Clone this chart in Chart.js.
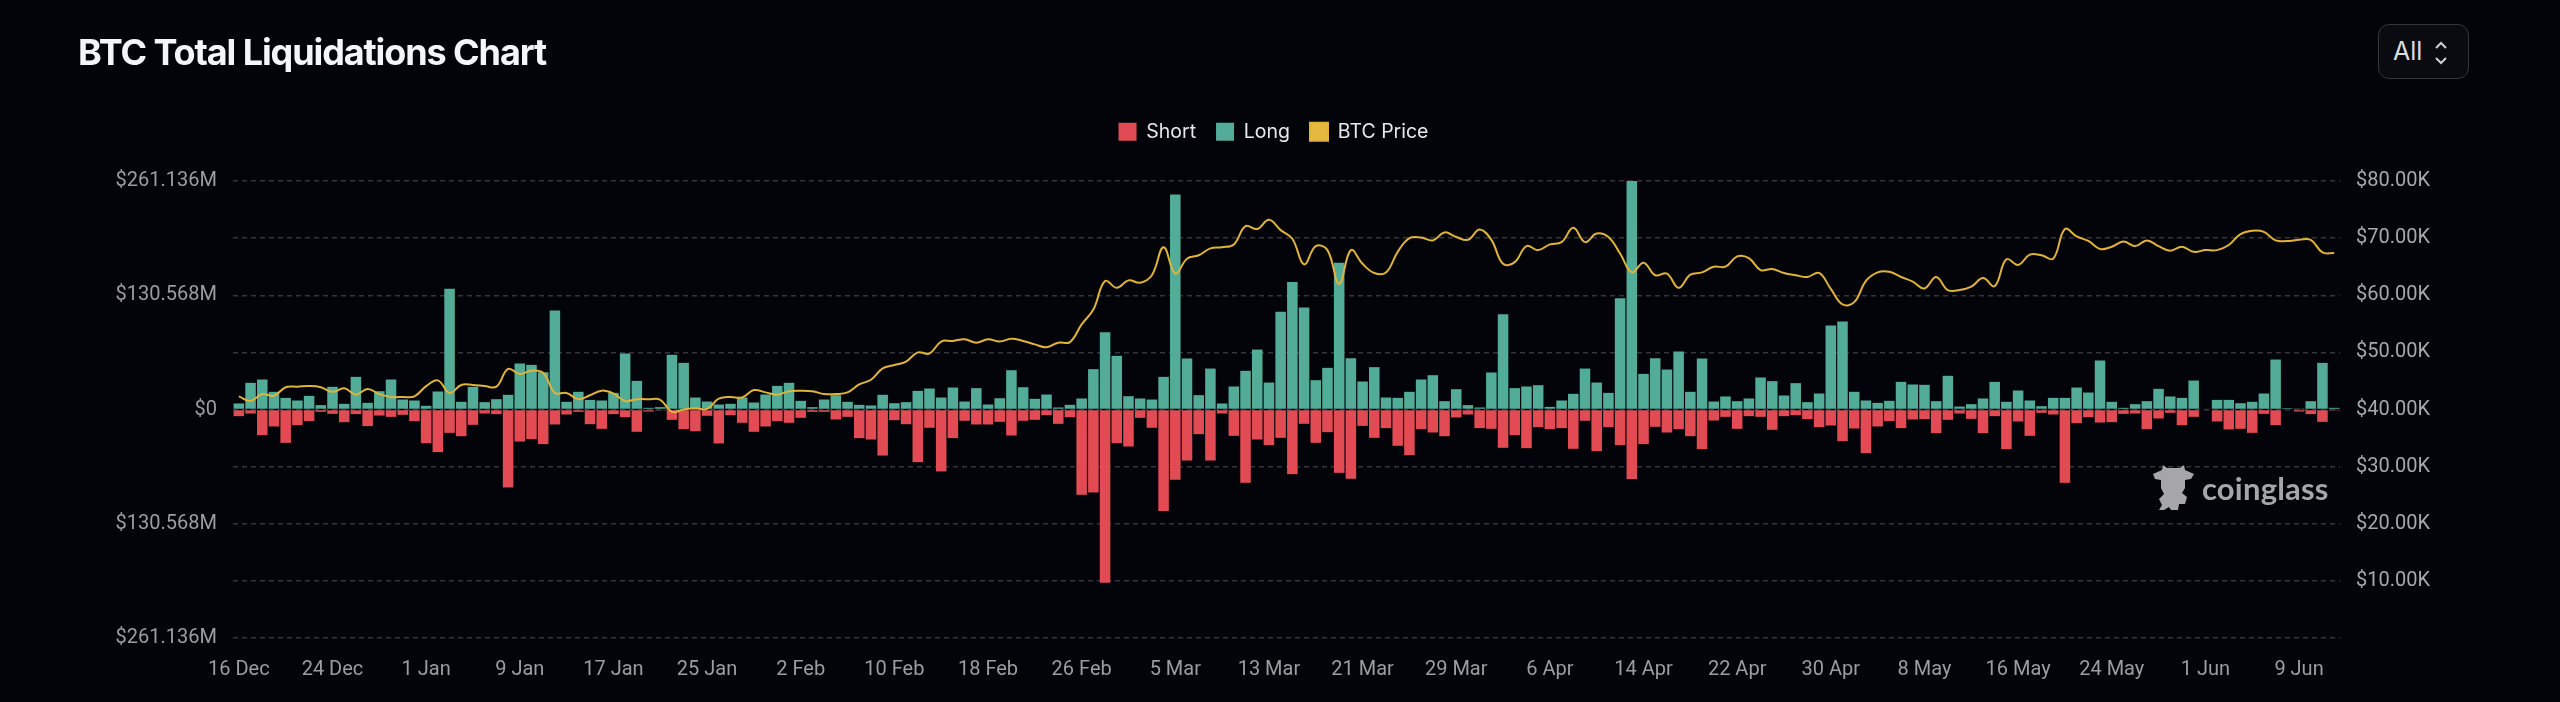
<!DOCTYPE html>
<html>
<head>
<meta charset="utf-8">
<title>BTC Total Liquidations Chart</title>
<script src="https://cdn.jsdelivr.net/npm/chart.js@4"></script>
<style>
    html, body { margin: 0; background: #02040a; }
    #wrap { position: relative; width: 2560px; height: 702px; overflow: hidden; }
    #titulo { position: absolute; left: 78px; top: 30px; font: 700 36px Inter, sans-serif; letter-spacing: -1.1px; color: #f4f5f8; }
    #botao { position: absolute; left: 2378px; top: 24px; width: 91px; height: 55px; box-sizing: border-box; border: 1.5px solid #33363b; border-radius: 11px; background: #090b10; color: #dcdcde; font: 25px Inter, sans-serif; line-height: 53px; padding-left: 14px; }
    #botao svg { position: absolute; left: 55px; top: 16px; }
    #marca { position: absolute; left: 2152px; top: 464px; color: #a6a6a8; }
    #marca span { position: absolute; left: 50px; top: 5px; font: 700 31px Lato, sans-serif; letter-spacing: 0.2px; }
    canvas { display: block; }
</style>
</head>
<body>
<div id="wrap">
    <canvas id="grafico" width="2560" height="702"></canvas>
    <div id="titulo">BTC Total Liquidations Chart</div>
    <div id="botao">All
        <svg width="14" height="24" viewBox="0 0 14 24" fill="none" stroke="#cfcfd1" stroke-width="2"><path d="M2 7 L7 2 L12 7"/><path d="M2 17 L7 22 L12 17"/></svg>
    </div>
    <div id="marca">
        <svg width="44" height="48" viewBox="0 0 44 48" fill="#a6a6a8"><path d="M11 1 L15 4 L28 4 L32 1 L33 6 L42 10 L39 15 L33 16 L33 24 L30 29 L35 33 L33 40 L27 40 L26 46 L19 46 L17 43 L12 46 L7 46 L10 41 L7 35 L12 30 L9 24 L9 16 L3 15 L1 10 L10 6 Z"/></svg>
        <span>coinglass</span>
    </div>
</div>

<script>
const categorias = [
    "16 Dec", "17 Dec", "18 Dec", "19 Dec", "20 Dec", "21 Dec", "22 Dec", "23 Dec", "24 Dec", "25 Dec", "26 Dec", "27 Dec", "28 Dec", "29 Dec", "30 Dec", "31 Dec",
    "1 Jan", "2 Jan", "3 Jan", "4 Jan", "5 Jan", "6 Jan", "7 Jan", "8 Jan", "9 Jan", "10 Jan", "11 Jan", "12 Jan", "13 Jan", "14 Jan", "15 Jan", "16 Jan", "17 Jan", "18 Jan", "19 Jan", "20 Jan", "21 Jan", "22 Jan", "23 Jan", "24 Jan", "25 Jan", "26 Jan", "27 Jan", "28 Jan", "29 Jan", "30 Jan", "31 Jan",
    "1 Feb", "2 Feb", "3 Feb", "4 Feb", "5 Feb", "6 Feb", "7 Feb", "8 Feb", "9 Feb", "10 Feb", "11 Feb", "12 Feb", "13 Feb", "14 Feb", "15 Feb", "16 Feb", "17 Feb", "18 Feb", "19 Feb", "20 Feb", "21 Feb", "22 Feb", "23 Feb", "24 Feb", "25 Feb", "26 Feb", "27 Feb", "28 Feb", "29 Feb",
    "1 Mar", "2 Mar", "3 Mar", "4 Mar", "5 Mar", "6 Mar", "7 Mar", "8 Mar", "9 Mar", "10 Mar", "11 Mar", "12 Mar", "13 Mar", "14 Mar", "15 Mar", "16 Mar", "17 Mar", "18 Mar", "19 Mar", "20 Mar", "21 Mar", "22 Mar", "23 Mar", "24 Mar", "25 Mar", "26 Mar", "27 Mar", "28 Mar", "29 Mar", "30 Mar", "31 Mar",
    "1 Apr", "2 Apr", "3 Apr", "4 Apr", "5 Apr", "6 Apr", "7 Apr", "8 Apr", "9 Apr", "10 Apr", "11 Apr", "12 Apr", "13 Apr", "14 Apr", "15 Apr", "16 Apr", "17 Apr", "18 Apr", "19 Apr", "20 Apr", "21 Apr", "22 Apr", "23 Apr", "24 Apr", "25 Apr", "26 Apr", "27 Apr", "28 Apr", "29 Apr", "30 Apr",
    "1 May", "2 May", "3 May", "4 May", "5 May", "6 May", "7 May", "8 May", "9 May", "10 May", "11 May", "12 May", "13 May", "14 May", "15 May", "16 May", "17 May", "18 May", "19 May", "20 May", "21 May", "22 May", "23 May", "24 May", "25 May", "26 May", "27 May", "28 May", "29 May", "30 May", "31 May",
    "1 Jun", "2 Jun", "3 Jun", "4 Jun", "5 Jun", "6 Jun", "7 Jun", "8 Jun", "9 Jun", "10 Jun", "11 Jun", "12 Jun",
];

// valores em milhoes de dolares
const long = [
    6.9, 30.5, 34.3, 20.2, 13.3, 10.3, 15.6, 5.0, 25.9, 6.5, 37.3, 7.6, 20.9, 34.3, 11.4, 10.3, 4.2, 20.6, 137.9, 8.8,
    25.9, 8.4, 11.8, 16.8, 52.6, 51.0, 42.6, 113.1, 8.8, 20.2, 11.0, 10.3, 19.0, 64.0, 32.7, 1.9, 2.7, 62.5, 53.3, 13.7,
    9.1, 5.7, 6.5, 13.7, 8.0, 17.1, 27.0, 30.5, 9.9, 2.7, 11.4, 16.4, 8.8, 5.3, 4.6, 16.8, 7.2, 8.4, 21.3, 24.0,
    13.7, 25.1, 9.1, 24.4, 5.7, 12.9, 44.9, 25.5, 12.2, 17.1, 2.3, 5.3, 12.6, 46.1, 88.3, 61.3, 15.2, 12.6, 11.4, 37.3,
    245.6, 58.3, 16.4, 46.8, 6.9, 26.3, 44.2, 68.5, 30.8, 111.6, 145.8, 116.5, 33.5, 47.6, 167.6, 58.6, 32.0, 48.4, 13.7, 13.3,
    20.2, 34.3, 39.2, 9.5, 23.2, 5.0, 2.3, 42.3, 108.9, 24.4, 26.3, 27.8, 3.0, 10.3, 17.9, 46.8, 30.8, 19.0, 127.2, 261.136,
    40.7, 58.6, 45.7, 66.3, 20.2, 58.3, 9.1, 14.9, 9.5, 12.6, 36.6, 32.4, 16.0, 30.1, 8.4, 18.3, 96.0, 100.5, 20.2, 10.3,
    7.6, 9.9, 31.6, 28.6, 28.2, 9.5, 38.5, 3.4, 6.1, 12.6, 31.6, 8.8, 21.7, 10.3, 3.8, 13.3, 13.3, 25.1, 19.4, 56.0,
    8.8, 1.9, 6.1, 9.5, 23.6, 14.9, 13.3, 33.1, 0.8, 11.0, 11.0, 7.2, 8.8, 18.3, 57.1, 1.5, 0.4, 9.5, 53.3, 1.9,
];

const short = [
    -7.6, -4.6, -29.3, -19.4, -38.1, -17.9, -13.3, -2.7, -5.0, -14.5, -5.3, -19.0, -6.9, -8.4, -6.1, -13.3, -38.5, -48.7, -26.7, -30.5,
    -17.5, -4.6, -5.3, -89.1, -36.6, -33.9, -39.6, -17.1, -5.7, -2.7, -16.8, -22.1, -5.3, -8.8, -25.5, -2.3, -1.1, -11.8, -22.5, -24.8,
    -7.2, -38.8, -6.5, -15.2, -25.5, -19.4, -13.3, -15.2, -9.5, -2.7, -2.7, -11.4, -8.4, -32.7, -34.3, -52.6, -12.2, -16.8, -60.2, -20.9,
    -70.8, -32.7, -12.9, -17.1, -17.1, -14.1, -29.7, -12.9, -11.8, -6.5, -16.4, -8.8, -97.5, -94.8, -198.0, -38.5, -42.3, -9.5, -20.9, -116.1,
    -80.3, -58.3, -28.2, -58.3, -4.6, -30.1, -83.8, -34.3, -40.7, -32.4, -73.9, -16.4, -38.1, -25.9, -72.4, -79.2, -18.7, -32.4, -21.3, -41.5,
    -52.2, -22.5, -26.3, -30.5, -9.1, -5.7, -21.3, -22.1, -43.8, -29.3, -44.2, -20.2, -22.5, -21.3, -44.9, -12.9, -47.6, -20.2, -40.7, -79.6,
    -39.6, -19.8, -26.3, -22.5, -30.5, -45.3, -12.6, -8.4, -22.1, -7.6, -8.4, -23.2, -7.6, -6.5, -11.0, -20.2, -18.3, -36.2, -21.7, -49.9,
    -19.4, -13.3, -21.3, -11.4, -11.0, -27.0, -11.8, -4.6, -10.7, -27.0, -7.6, -45.3, -13.7, -30.1, -3.8, -5.7, -83.8, -15.6, -8.8, -14.9,
    -14.5, -5.0, -4.6, -22.5, -10.3, -3.8, -17.9, -8.4, -0.8, -13.7, -22.8, -22.1, -26.7, -5.0, -17.9, -0.8, -2.3, -5.3, -14.1, -0.4,
];

// preco em milhares de dolares
const preco = [
    42.3, 41.5, 42.7, 42.4, 43.9, 44.0, 44.1, 43.9, 43.1, 43.7, 42.6, 43.6, 42.7, 42.2, 42.2, 42.3, 44.1, 45.1, 42.9, 44.3,
    44.3, 44.1, 44.0, 47.1, 46.2, 46.8, 46.4, 42.9, 42.9, 41.8, 42.5, 43.3, 42.8, 41.5, 41.8, 41.8, 41.7, 39.6, 40.0, 40.2,
    40.1, 41.9, 42.2, 42.1, 43.4, 43.0, 42.6, 43.2, 43.3, 43.2, 42.7, 42.7, 43.0, 44.4, 45.2, 47.2, 47.8, 48.4, 50.0, 49.8,
    51.9, 52.0, 52.3, 51.7, 52.3, 51.9, 52.4, 52.0, 51.4, 50.9, 51.7, 51.8, 54.9, 57.5, 62.5, 61.3, 62.6, 62.2, 63.5, 68.4,
    63.8, 66.4, 67.0, 68.2, 68.4, 68.9, 72.1, 71.6, 73.2, 71.4, 69.9, 65.4, 68.6, 67.9, 62.0, 67.9, 65.5, 63.9, 64.0, 67.6,
    70.0, 70.1, 69.6, 71.0, 70.2, 69.7, 71.5, 69.7, 65.5, 65.8, 68.6, 67.9, 68.9, 69.3, 71.8, 69.3, 70.8, 70.2, 67.3, 64.0,
    65.7, 63.5, 63.8, 61.3, 63.6, 64.0, 65.0, 65.0, 66.8, 66.5, 64.4, 64.6, 63.9, 63.5, 63.2, 63.9, 61.1, 58.4, 58.8, 62.5,
    64.0, 64.1, 63.2, 62.4, 61.2, 63.2, 60.9, 60.9, 61.5, 63.0, 61.6, 66.3, 65.3, 67.1, 67.0, 66.4, 71.6, 70.3, 69.5, 68.1,
    68.5, 69.4, 68.6, 69.6, 68.6, 67.8, 68.5, 67.6, 67.9, 67.9, 68.8, 70.7, 71.3, 71.1, 69.6, 69.5, 69.7, 69.7, 67.5, 67.4,
];

const ticksEsquerda = [-261.136, -195.852, -130.568, -65.284, 0, 65.284, 130.568, 195.852, 261.136];
const ticksDireita = [0, 10, 20, 30, 40, 50, 60, 70, 80];

const fonteEixo = { family: "Roboto", size: 20 };
const corEixo = "#9d9d9f";

// fixa a altura da legenda para a area do grafico comecar no lugar certo
const alturaLegenda = {
    id: "alturaLegenda",
    beforeInit(chart) {
        const fit = chart.legend.fit;
        chart.legend.fit = function () {
            fit.call(this);
            this.height = 79;
        };
    },
};

new Chart(document.getElementById("grafico"), {
    type: "bar",
    plugins: [alturaLegenda],
    data: {
        labels: categorias,
        datasets: [
            { label: "Short", data: short, backgroundColor: "#e24b54", borderWidth: 0, yAxisID: "y", order: 1 },
            { label: "Long", data: long, backgroundColor: "#53ac97", borderWidth: 0, yAxisID: "y", order: 2 },
            {
                type: "line",
                label: "BTC Price",
                data: preco,
                yAxisID: "y1",
                borderColor: "#e0b33a",
                backgroundColor: "#e5b93f",
                borderWidth: 2,
                pointRadius: 0,
                tension: 0.4,
                order: 0,
            },
        ],
    },
    options: {
        responsive: false,
        animation: false,
        layout: { padding: { top: 102, right: 13 } },
        datasets: { bar: { barPercentage: 0.9, categoryPercentage: 1 } },
        plugins: {
            tooltip: { enabled: false },
            legend: {
                position: "top",
                labels: {
                    boxWidth: 18,
                    boxHeight: 18,
                    padding: 20,
                    color: "#e8e8ea",
                    font: { family: "Inter", size: 19.5 },
                    sort: (a, b) => a.datasetIndex - b.datasetIndex,
                },
            },
        },
        scales: {
            x: {
                stacked: true,
                afterFit: (s) => { s.height = 64; },
                grid: { display: false },
                border: { display: false },
                ticks: {
                    autoSkip: false,
                    maxRotation: 0,
                    padding: 12,
                    color: corEixo,
                    font: fonteEixo,
                    callback(valor, i) {
                        return i % 8 === 0 ? categorias[i] : "";
                    },
                },
            },
            y: {
                stacked: true,
                position: "left",
                min: -261.136,
                max: 261.136,
                afterBuildTicks: (s) => { s.ticks = ticksEsquerda.map((v) => ({ value: v })); },
                afterFit: (s) => { s.width = 233; },
                border: { display: false, dash: [5, 4] },
                grid: { color: "#343538", lineWidth: 1.5, drawTicks: false },
                ticks: {
                    padding: 16,
                    color: corEixo,
                    font: fonteEixo,
                    callback(valor) {
                        const abs = Math.abs(valor);
                        if (abs === 0) return "$0";
                        if (abs === 130.568 || abs === 261.136) return "$" + abs.toFixed(3) + "M";
                        return "";
                    },
                },
            },
            y1: {
                position: "right",
                min: 0,
                max: 80,
                afterBuildTicks: (s) => { s.ticks = ticksDireita.map((v) => ({ value: v })); },
                afterFit: (s) => { s.width = 207; },
                border: { display: false },
                grid: { display: false, drawTicks: false },
                ticks: {
                    padding: 16,
                    color: "#a8a8aa",
                    font: fonteEixo,
                    callback(valor) {
                        return valor === 0 ? "" : "$" + valor.toFixed(2) + "K";
                    },
                },
            },
        },
    },
});
</script>
</body>
</html>
